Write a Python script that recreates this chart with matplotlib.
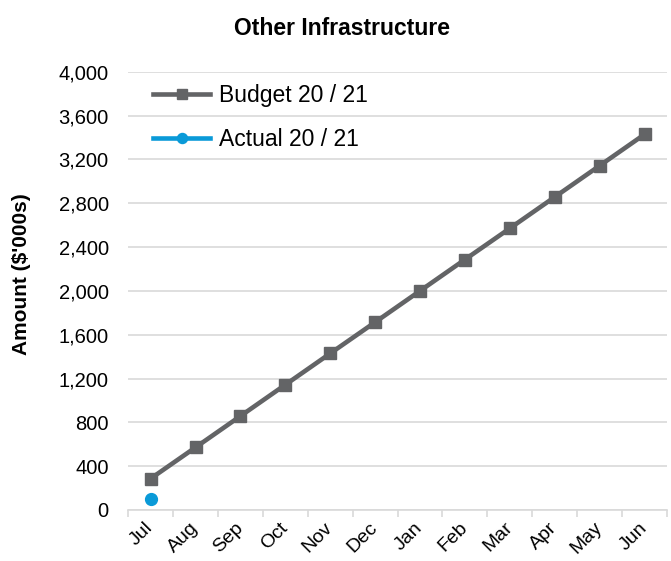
import numpy as np
import matplotlib.pyplot as plt

plt.rcParams['font.family'] = ['Liberation Sans', 'DejaVu Sans']

months = ["Jul", "Aug", "Sep", "Oct", "Nov", "Dec",
          "Jan", "Feb", "Mar", "Apr", "May", "Jun"]
budget = [286, 571, 857, 1143, 1429, 1714, 2000, 2286, 2571, 2857, 3143, 3429]
actual = [100]

fig = plt.figure(figsize=(6.71, 5.61), dpi=100)
ax = fig.add_axes([0.191, 0.091, 0.803, 0.781])

x = np.arange(len(months))
ax.plot(x, budget, color="#636466", lw=3.3, marker="s", ms=8.5,
        label="Budget 20 / 21", zorder=3)
ax.plot(x[:len(actual)], actual, color="#0a9ad8", lw=3.3, marker="o", ms=8.5,
        label="Actual 20 / 21", zorder=3)

ax.set_xlim(-0.5, len(months) - 0.5)
ax.set_ylim(0, 4000)
ax.set_yticks(np.arange(0, 4001, 400))
ax.set_yticklabels([f"{v:,}" for v in range(0, 4001, 400)], fontsize=14.5)
ax.set_xticks(x)
ax.set_xticklabels(months, rotation=45, fontsize=14, ha="right",
                   va="center", rotation_mode="anchor")
ax.set_xticks(np.arange(-0.5, len(months)), minor=True)
ax.tick_params(axis="x", which="major", length=0, pad=11)
ax.tick_params(axis="x", which="minor", length=5, color="#d9d9d9", width=1.2)
ax.tick_params(axis="y", length=0, pad=14)

ax.grid(axis="y", color="#d9d9d9", lw=1.2)
ax.set_axisbelow(True)
for s in ["top", "right", "left"]:
    ax.spines[s].set_visible(False)
ax.spines["bottom"].set_color("#d9d9d9")
ax.spines["bottom"].set_linewidth(1.2)

ax.set_ylabel("Amount ($'000s)", fontsize=15, fontweight="bold")
ax.yaxis.set_label_coords(-0.18, 0.539)
fig.text(0.51, 0.95, "Other Infrastructure", fontsize=16.5, fontweight="bold",
         ha="center", va="center")

ax.legend(loc="upper left", frameon=False, fontsize=16.5, handlelength=2.5,
          bbox_to_anchor=(0.046, 0.972), borderaxespad=0, borderpad=0,
          labelspacing=0.9, handletextpad=0.4, markerscale=0.85)

fig.savefig("out.png", dpi=100)
